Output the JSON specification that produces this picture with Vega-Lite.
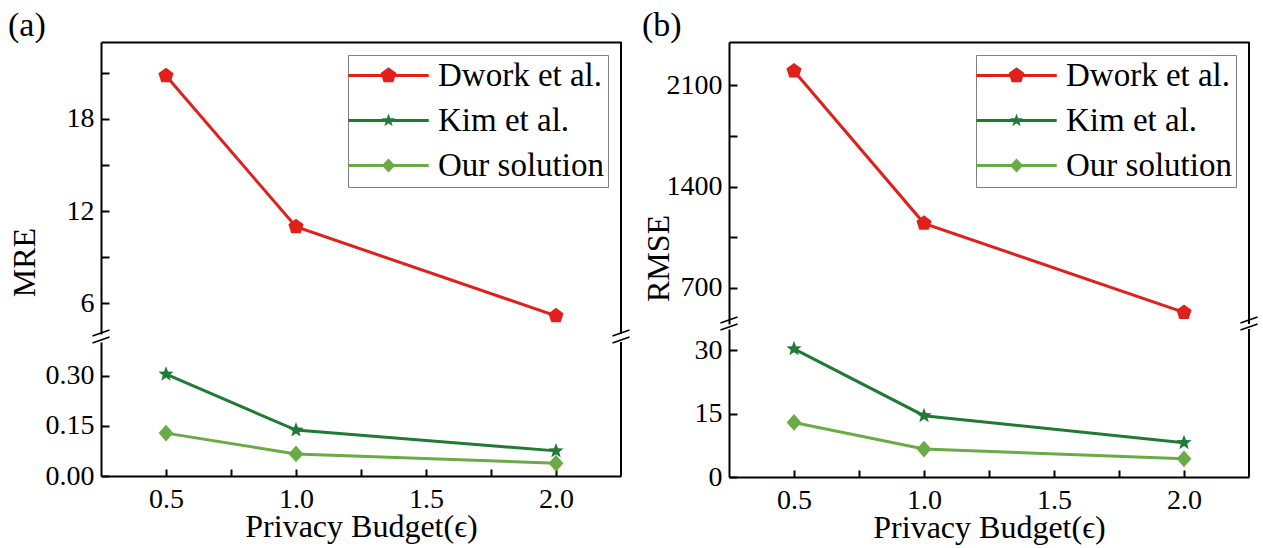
{
  "$schema": "https://vega.github.io/schema/vega-lite/v6.json",
  "padding": {"left": 8, "top": 9, "right": 5, "bottom": 3},
  "background": "white",
  "config": {
    "font": "Liberation Serif",
    "view": {"stroke": null},
    "axis": {
      "grid": false,
      "domainColor": "black",
      "domainWidth": 2,
      "tickColor": "black",
      "tickWidth": 2,
      "labelFontSize": 28,
      "labelColor": "black",
      "labelOverlap": false,
      "labelFlush": false,
      "titleFontSize": 32,
      "titleFontWeight": "normal",
      "titleColor": "black"
    },
    "legend": {"labelColor": "black", "strokeWidth": 1},
    "title": {"fontSize": 34, "fontWeight": "normal", "color": "black", "anchor": "start", "offset": 4, "dy": 6}
  },
  "datasets": {
    "mre": [
      {"eps": 0.5, "series": "Dwork et al.", "value": 20.8},
      {"eps": 1.0, "series": "Dwork et al.", "value": 10.98},
      {"eps": 2.0, "series": "Dwork et al.", "value": 5.18},
      {"eps": 0.5, "series": "Kim et al.", "value": 0.304},
      {"eps": 1.0, "series": "Kim et al.", "value": 0.137},
      {"eps": 2.0, "series": "Kim et al.", "value": 0.075},
      {"eps": 0.5, "series": "Our solution", "value": 0.128},
      {"eps": 1.0, "series": "Our solution", "value": 0.066},
      {"eps": 2.0, "series": "Our solution", "value": 0.038}
    ],
    "rmse": [
      {"eps": 0.5, "series": "Dwork et al.", "value": 2199},
      {"eps": 1.0, "series": "Dwork et al.", "value": 1146},
      {"eps": 2.0, "series": "Dwork et al.", "value": 530},
      {"eps": 0.5, "series": "Kim et al.", "value": 30.3},
      {"eps": 1.0, "series": "Kim et al.", "value": 14.5},
      {"eps": 2.0, "series": "Kim et al.", "value": 8.1},
      {"eps": 0.5, "series": "Our solution", "value": 12.9},
      {"eps": 1.0, "series": "Our solution", "value": 6.6},
      {"eps": 2.0, "series": "Our solution", "value": 4.3}
    ]
  },
  "spacing": 9,
  "resolve": {"scale": {"color": "independent", "stroke": "independent", "fill": "independent", "shape": "independent"}, "legend": {"color": "independent", "shape": "independent", "stroke": "independent", "fill": "independent"}},
  "hconcat": [
    {
      "title": {"text": "(a)"},
      "spacing": 8,
      "bounds": "flush",
      "resolve": {"scale": {"color": "independent", "stroke": "independent", "fill": "independent", "shape": "independent"}, "legend": {"color": "independent", "shape": "independent", "stroke": "independent", "fill": "independent"}},
      "vconcat": [
        {
          "width": 520,
          "height": 292,
          "resolve": {"scale": {"shape": "independent", "color": "independent"}, "legend": {"shape": "independent", "color": "independent"}},
          "layer": [
            {
              "data": {"name": "mre"},
              "transform": [{"filter": "datum.series === 'Dwork et al.'"}],
              "encoding": {
                "x": {"field": "eps", "type": "quantitative", "scale": {"domain": [0.25, 2.25], "nice": false, "zero": false},
                      "axis": {"orient": "top", "labels": false, "ticks": false, "title": null, "domain": true}},
                "y": {"field": "value", "type": "quantitative", "scale": {"domain": [4, 23], "nice": false, "zero": false},
                      "axis": {"values": [6, 9, 12, 15, 18, 21], "labelExpr": "datum.value % 6 === 0 ? datum.label : ''",
                               "tickSize": -8, "labelPadding": 15, "title": "MRE", "titleX": -67, "titleY": 220, "titleBaseline": "alphabetic",
                               "encode": {"ticks": {"update": {"x2": {"signal": "datum.value % 6 === 0 ? -8 : -5"}}}}}},
                "stroke": {"field": "series", "type": "nominal", "legend": null,
                          "scale": {"domain": ["Dwork et al.", "Kim et al.", "Our solution"], "range": ["#e0201b", "#1f7a36", "#6aab45"]}}
              },
              "layer": [
                {"mark": {"type": "line", "strokeWidth": 3}},
                {"mark": {"type": "point", "filled": true, "opacity": 1, "size": 256, "strokeWidth": 0},
                 "encoding": {
                   "fill": {"field": "series", "type": "nominal", "legend": null,
                            "scale": {"domain": ["Dwork et al.", "Kim et al.", "Our solution"], "range": ["#e0201b", "#1f7a36", "#6aab45"]}},
                   "shape": {"field": "series", "type": "nominal", "legend": null,
                   "scale": {"domain": ["Dwork et al.", "Kim et al.", "Our solution"],
                             "range": ["M0,-1L0.951,-0.309L0.588,0.809L-0.588,0.809L-0.951,-0.309Z",
                                       "M0,-1L0.247,-0.34L0.951,-0.309L0.4,0.13L0.588,0.809L0,0.42L-0.588,0.809L-0.4,0.13L-0.951,-0.309L-0.247,-0.34Z",
                                       "M0,-1.05L0.92,0L0,1.05L-0.92,0Z"]}}}}
              ]
            },
            {
              "data": {"name": "mre"},
              "transform": [{"filter": "datum.series === 'Dwork et al.'"}],
              "mark": {"type": "point", "filled": true, "opacity": 0, "size": 180},
              "encoding": {
                "x": {"field": "eps", "type": "quantitative"},
                "y": {"field": "value", "type": "quantitative"},
                "color": {"field": "series", "type": "nominal",
                          "scale": {"domain": ["Dwork et al.", "Kim et al.", "Our solution"], "range": ["#e0201b", "#1f7a36", "#6aab45"]},
                          "legend": {"orient": "top-right", "offset": 13, "title": null, "strokeColor": "#808080", "fillColor": "white", "padding": 4,
                                     "labelFontSize": 33, "labelLimit": 400, "labelOffset": 33, "symbolSize": 180, "symbolOffset": 20,
                                     "rowPadding": 11, "symbolStrokeWidth": 0, "symbolOpacity": 1}},
                "shape": {"field": "series", "type": "nominal",
                          "scale": {"domain": ["Dwork et al.", "Kim et al.", "Our solution"],
                                    "range": ["M-6,-0.23H6V0.23H-6ZM0,-1.23L1.17,-0.38L0.723,0.995L-0.723,0.995L-1.17,-0.38Z",
                                              "M-6,-0.23H6V0.23H-6ZM0,-1.05L0.247,-0.34L0.999,-0.324L0.4,0.13L0.617,0.85L0,0.42L-0.617,0.85L-0.4,0.13L-0.999,-0.324L-0.247,-0.34Z",
                                              "M-6,-0.23H6V0.23H-6ZM0,-1.05L1,0L0,1.05L-1,0Z"]},
                          "legend": {"orient": "top-right", "offset": 13, "title": null, "strokeColor": "#808080", "fillColor": "white", "padding": 4,
                                     "labelFontSize": 33, "labelLimit": 400, "labelOffset": 33, "symbolSize": 180, "symbolOffset": 20,
                                     "rowPadding": 11, "symbolStrokeWidth": 0, "symbolOpacity": 1}}
              }
            },
            {
              "data": {"values": [{"bx": 2.25}]},
              "mark": {"type": "rule", "color": "black", "strokeWidth": 2},
              "encoding": {"x": {"field": "bx", "type": "quantitative"}}
            }
          ]
        },
        {
          "width": 520,
          "height": 134,
          "layer": [
            {
              "data": {"name": "mre"},
              "transform": [{"filter": "datum.series !== 'Dwork et al.'"}],
              "encoding": {
                "x": {"field": "eps", "type": "quantitative", "scale": {"domain": [0.25, 2.25], "nice": false, "zero": false},
                      "axis": {"values": [0.5, 0.75, 1, 1.25, 1.5, 1.75, 2], "labelExpr": "(datum.value*2) % 1 === 0 ? format(datum.value, '.1f') : ''",
                               "tickSize": -7, "labelPadding": 16, "title": "Privacy Budget(ϵ)", "titleY": 35, "titleBaseline": "top",
                               "encode": {"ticks": {"update": {"y2": {"signal": "(datum.value*2) % 1 === 0 ? -7 : -4"}}}}}},
                "y": {"field": "value", "type": "quantitative", "scale": {"domain": [0, 0.4], "nice": false, "zero": false},
                      "axis": {"values": [0, 0.075, 0.15, 0.225, 0.3, 0.375],
                               "labelExpr": "abs(datum.value/0.15 - round(datum.value/0.15)) < 0.001 ? format(datum.value, '.2f') : ''",
                               "tickSize": -8, "labelPadding": 15, "title": null,
                               "encode": {"ticks": {"update": {"x2": {"signal": "abs(datum.value/0.15 - round(datum.value/0.15)) < 0.001 ? -8 : -5"}}}}}},
                "stroke": {"field": "series", "type": "nominal", "legend": null,
                          "scale": {"domain": ["Dwork et al.", "Kim et al.", "Our solution"], "range": ["#e0201b", "#1f7a36", "#6aab45"]}}
              },
              "layer": [
                {"mark": {"type": "line", "strokeWidth": 3}},
                {"mark": {"type": "point", "filled": true, "opacity": 1, "size": 256, "strokeWidth": 0},
                 "encoding": {
                   "fill": {"field": "series", "type": "nominal", "legend": null,
                            "scale": {"domain": ["Dwork et al.", "Kim et al.", "Our solution"], "range": ["#e0201b", "#1f7a36", "#6aab45"]}},
                   "shape": {"field": "series", "type": "nominal", "legend": null,
                   "scale": {"domain": ["Dwork et al.", "Kim et al.", "Our solution"],
                             "range": ["M0,-1L0.951,-0.309L0.588,0.809L-0.588,0.809L-0.951,-0.309Z",
                                       "M0,-1L0.247,-0.34L0.951,-0.309L0.4,0.13L0.588,0.809L0,0.42L-0.588,0.809L-0.4,0.13L-0.951,-0.309L-0.247,-0.34Z",
                                       "M0,-1.05L0.92,0L0,1.05L-0.92,0Z"]}}}}
              ]
            },
            {
              "data": {"values": [{"bx": 2.25}]},
              "mark": {"type": "rule", "color": "black", "strokeWidth": 2},
              "encoding": {"x": {"field": "bx", "type": "quantitative"}}
            },
            {
              "data": {"values": [{"bx": 0.25, "by": 0.4}, {"bx": 2.25, "by": 0.4}]},
              "mark": {"type": "point", "filled": false, "color": "black", "strokeWidth": 1.6, "opacity": 1, "size": 324,
                       "shape": "M-0.95,-0.67L0.95,-1.33M-0.95,0.11L0.95,-0.55"},
              "encoding": {"x": {"field": "bx", "type": "quantitative"},
                           "y": {"field": "by", "type": "quantitative"}}
            }
          ]
        }
      ]
    },
    {
      "title": {"text": "(b)"},
      "spacing": 5,
      "bounds": "flush",
      "resolve": {"scale": {"color": "independent", "stroke": "independent", "fill": "independent", "shape": "independent"}, "legend": {"color": "independent", "shape": "independent", "stroke": "independent", "fill": "independent"}},
      "vconcat": [
        {
          "width": 520,
          "height": 282,
          "resolve": {"scale": {"shape": "independent", "color": "independent"}, "legend": {"shape": "independent", "color": "independent"}},
          "layer": [
            {
              "data": {"name": "rmse"},
              "transform": [{"filter": "datum.series === 'Dwork et al.'"}],
              "encoding": {
                "x": {"field": "eps", "type": "quantitative", "scale": {"domain": [0.25, 2.25], "nice": false, "zero": false},
                      "axis": {"orient": "top", "labels": false, "ticks": false, "title": null, "domain": true}},
                "y": {"field": "value", "type": "quantitative", "scale": {"domain": [450, 2400], "nice": false, "zero": false},
                      "axis": {"values": [700, 1050, 1400, 1750, 2100], "labelExpr": "datum.value % 700 === 0 ? format(datum.value, 'd') : ''",
                               "tickSize": -8, "labelPadding": 15, "title": "RMSE", "titleX": -61, "titleY": 216, "titleBaseline": "alphabetic",
                               "encode": {"ticks": {"update": {"x2": {"signal": "datum.value % 700 === 0 ? -8 : -5"}}}}}},
                "stroke": {"field": "series", "type": "nominal", "legend": null,
                          "scale": {"domain": ["Dwork et al.", "Kim et al.", "Our solution"], "range": ["#e0201b", "#1f7a36", "#6aab45"]}}
              },
              "layer": [
                {"mark": {"type": "line", "strokeWidth": 3}},
                {"mark": {"type": "point", "filled": true, "opacity": 1, "size": 256, "strokeWidth": 0},
                 "encoding": {
                   "fill": {"field": "series", "type": "nominal", "legend": null,
                            "scale": {"domain": ["Dwork et al.", "Kim et al.", "Our solution"], "range": ["#e0201b", "#1f7a36", "#6aab45"]}},
                   "shape": {"field": "series", "type": "nominal", "legend": null,
                   "scale": {"domain": ["Dwork et al.", "Kim et al.", "Our solution"],
                             "range": ["M0,-1L0.951,-0.309L0.588,0.809L-0.588,0.809L-0.951,-0.309Z",
                                       "M0,-1L0.247,-0.34L0.951,-0.309L0.4,0.13L0.588,0.809L0,0.42L-0.588,0.809L-0.4,0.13L-0.951,-0.309L-0.247,-0.34Z",
                                       "M0,-1.05L0.92,0L0,1.05L-0.92,0Z"]}}}}
              ]
            },
            {
              "data": {"name": "rmse"},
              "transform": [{"filter": "datum.series === 'Dwork et al.'"}],
              "mark": {"type": "point", "filled": true, "opacity": 0, "size": 180},
              "encoding": {
                "x": {"field": "eps", "type": "quantitative"},
                "y": {"field": "value", "type": "quantitative"},
                "color": {"field": "series", "type": "nominal",
                          "scale": {"domain": ["Dwork et al.", "Kim et al.", "Our solution"], "range": ["#e0201b", "#1f7a36", "#6aab45"]},
                          "legend": {"orient": "top-right", "offset": 13, "title": null, "strokeColor": "#808080", "fillColor": "white", "padding": 4,
                                     "labelFontSize": 33, "labelLimit": 400, "labelOffset": 33, "symbolSize": 180, "symbolOffset": 20,
                                     "rowPadding": 11, "symbolStrokeWidth": 0, "symbolOpacity": 1}},
                "shape": {"field": "series", "type": "nominal",
                          "scale": {"domain": ["Dwork et al.", "Kim et al.", "Our solution"],
                                    "range": ["M-6,-0.23H6V0.23H-6ZM0,-1.23L1.17,-0.38L0.723,0.995L-0.723,0.995L-1.17,-0.38Z",
                                              "M-6,-0.23H6V0.23H-6ZM0,-1.05L0.247,-0.34L0.999,-0.324L0.4,0.13L0.617,0.85L0,0.42L-0.617,0.85L-0.4,0.13L-0.999,-0.324L-0.247,-0.34Z",
                                              "M-6,-0.23H6V0.23H-6ZM0,-1.05L1,0L0,1.05L-1,0Z"]},
                          "legend": {"orient": "top-right", "offset": 13, "title": null, "strokeColor": "#808080", "fillColor": "white", "padding": 4,
                                     "labelFontSize": 33, "labelLimit": 400, "labelOffset": 33, "symbolSize": 180, "symbolOffset": 20,
                                     "rowPadding": 11, "symbolStrokeWidth": 0, "symbolOpacity": 1}}
              }
            },
            {
              "data": {"values": [{"bx": 2.25}]},
              "mark": {"type": "rule", "color": "black", "strokeWidth": 2},
              "encoding": {"x": {"field": "bx", "type": "quantitative"}}
            }
          ]
        },
        {
          "width": 520,
          "height": 148,
          "layer": [
            {
              "data": {"name": "rmse"},
              "transform": [{"filter": "datum.series !== 'Dwork et al.'"}],
              "encoding": {
                "x": {"field": "eps", "type": "quantitative", "scale": {"domain": [0.25, 2.25], "nice": false, "zero": false},
                      "axis": {"values": [0.5, 0.75, 1, 1.25, 1.5, 1.75, 2], "labelExpr": "(datum.value*2) % 1 === 0 ? format(datum.value, '.1f') : ''",
                               "tickSize": -7, "labelPadding": 16, "title": "Privacy Budget(ϵ)", "titleY": 35, "titleBaseline": "top",
                               "encode": {"ticks": {"update": {"y2": {"signal": "(datum.value*2) % 1 === 0 ? -7 : -4"}}}}}},
                "y": {"field": "value", "type": "quantitative", "scale": {"domain": [0, 35], "nice": false, "zero": false},
                      "axis": {"values": [0, 7.5, 15, 22.5, 30],
                               "labelExpr": "datum.value % 15 === 0 ? format(datum.value, 'd') : ''",
                               "tickSize": -8, "labelPadding": 15, "title": null,
                               "encode": {"ticks": {"update": {"x2": {"signal": "datum.value % 15 === 0 ? -8 : -5"}}}}}},
                "stroke": {"field": "series", "type": "nominal", "legend": null,
                          "scale": {"domain": ["Dwork et al.", "Kim et al.", "Our solution"], "range": ["#e0201b", "#1f7a36", "#6aab45"]}}
              },
              "layer": [
                {"mark": {"type": "line", "strokeWidth": 3}},
                {"mark": {"type": "point", "filled": true, "opacity": 1, "size": 256, "strokeWidth": 0},
                 "encoding": {
                   "fill": {"field": "series", "type": "nominal", "legend": null,
                            "scale": {"domain": ["Dwork et al.", "Kim et al.", "Our solution"], "range": ["#e0201b", "#1f7a36", "#6aab45"]}},
                   "shape": {"field": "series", "type": "nominal", "legend": null,
                   "scale": {"domain": ["Dwork et al.", "Kim et al.", "Our solution"],
                             "range": ["M0,-1L0.951,-0.309L0.588,0.809L-0.588,0.809L-0.951,-0.309Z",
                                       "M0,-1L0.247,-0.34L0.951,-0.309L0.4,0.13L0.588,0.809L0,0.42L-0.588,0.809L-0.4,0.13L-0.951,-0.309L-0.247,-0.34Z",
                                       "M0,-1.05L0.92,0L0,1.05L-0.92,0Z"]}}}}
              ]
            },
            {
              "data": {"values": [{"bx": 2.25}]},
              "mark": {"type": "rule", "color": "black", "strokeWidth": 2},
              "encoding": {"x": {"field": "bx", "type": "quantitative"}}
            },
            {
              "data": {"values": [{"bx": 0.25, "by": 35}, {"bx": 2.25, "by": 35}]},
              "mark": {"type": "point", "filled": false, "color": "black", "strokeWidth": 1.6, "opacity": 1, "size": 324,
                       "shape": "M-0.95,-0.67L0.95,-1.33M-0.95,0.11L0.95,-0.55"},
              "encoding": {"x": {"field": "bx", "type": "quantitative"},
                           "y": {"field": "by", "type": "quantitative"}}
            }
          ]
        }
      ]
    }
  ]
}
